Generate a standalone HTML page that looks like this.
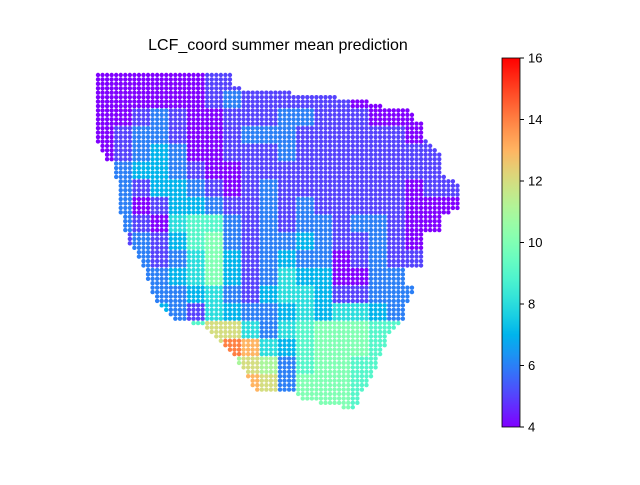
<!DOCTYPE html>
<html><head><meta charset="utf-8"><style>
html,body{margin:0;padding:0;background:#fff}
svg text{font-family:"Liberation Sans","DejaVu Sans",sans-serif}
</style></head><body>
<svg id="chart" width="640" height="480" viewBox="0 0 640 480">
<rect width="640" height="480" fill="#fff"/>
<text x="278" y="50" font-size="16" text-anchor="middle">LCF_coord summer mean prediction</text>
<g id="dots"></g>
<defs><linearGradient id="cb" x1="0" y1="1" x2="0" y2="0"></linearGradient></defs>
<rect x="502" y="58" width="18" height="369" fill="url(#cb)" stroke="#000" stroke-width="0.8"/>
<g id="cbticks"></g>
</svg>
<script>
const tickValues=[4,6,8,10,12,14,16];
const vmin=4, vmax=16;
// coarse grid of values (0 = no data); each cell = 4x4 prediction points
const gridRows=[
[4,4,4,4,4,4,5,5,5,5,5,0,0,0,0,0,0,0,0,0],
[4,4,4,4,4,4,5,6,5,5,5,5,5,5,4,4,0,0,0,0],
[4,4,5,6,5,4,4,5,5,5,6,6,5,5,5,4,4,4,0,0],
[4,5,6,6,5,4,4,5,6,6,6,5,5,5,5,5,5,4,5,0],
[4,5,6,7,6,4,4,5,5,5,6,5,5,5,5,5,5,5,5,0],
[0,6,7,7,6,5,4,4,5,5,5,5,5,5,5,5,5,5,5,5],
[0,6,5,7,7,6,5,4,5,6,5,5,5,5,5,5,5,4,5,5],
[0,6,4,5,7,7,6,5,5,6,5,6,5,5,5,5,5,4,4,4],
[0,6,5,4,8,9,9,6,5,6,5,6,6,5,6,6,5,4,4,0],
[0,5,6,5,7,9,10,6,5,6,6,7,6,5,5,6,5,4,0,0],
[0,0,6,5,6,8,10,7,5,6,7,6,6,4,5,6,5,5,0,0],
[0,0,6,6,7,8,10,7,5,6,8,7,7,4,4,6,6,0,0,0],
[0,0,5,6,6,7,8,6,5,7,8,8,7,5,5,6,6,6,0,0],
[0,0,0,7,6,5,8,7,6,6,7,8,7,8,8,7,6,0,0,0],
[0,0,0,8,8,9,12,12,8,6,8,9,10,10,10,9,9,0,0,0],
[0,0,0,0,0,0,12,14,13,8,7,9,10,10,10,9,0,0,0,0],
[0,0,0,0,0,0,0,11,12,11,6,9,10,10,9,9,0,0,0,0],
[0,0,0,0,0,0,0,0,13,12,6,10,10,10,9,9,0,0,0,0],
[0,0,0,0,0,0,0,0,0,0,0,10,10,10,9,0,0,0,0,0]
];
// survey area outline (pixel mask)
const outline=[[94,71],[153,71],[153,75],[231,75],[233,88],[291,90],[293,96],[366,98],[368,105],[410,108],[414,118],[422,123],[424,138],[434,148],[442,158],[444,178],[458,183],[464,195],[462,207],[444,217],[438,237],[432,262],[420,272],[414,292],[407,302],[402,325],[390,332],[387,342],[380,357],[372,377],[362,392],[357,407],[350,414],[343,407],[303,400],[293,396],[258,396],[253,387],[246,377],[243,367],[233,357],[220,344],[210,330],[198,324],[175,320],[158,302],[150,292],[146,272],[138,257],[128,242],[123,227],[119,202],[119,185],[113,172],[103,152],[98,142],[94,132]];
const NS="http://www.w3.org/2000/svg";
function inside(x,y){let c=false;for(let i=0,j=outline.length-1;i<outline.length;j=i++){
 const [xi,yi]=outline[i],[xj,yj]=outline[j];
 if(((yi>y)!=(yj>y))&&(x<(xj-xi)*(y-yi)/(yj-yi)+xi))c=!c;}return c;}
function rainbow(t){t=Math.max(0,Math.min(1,t));
 const r=Math.min(1,Math.abs(2*t-0.5)),g=Math.sin(Math.PI*t),b=Math.cos(Math.PI*t/2);
 return `rgb(${Math.round(r*255)},${Math.round(g*255)},${Math.round(Math.max(0,b)*255)})`;}
const xs=i=>98+i*4.55, ys=j=>75+j*4.43;
const cy=v=>427-(v-vmin)/(vmax-vmin)*369;
const g=document.getElementById('dots');
gridRows.forEach((row,r)=>row.forEach((v,c)=>{
 if(!v) return;
 for(let j=0;j<4;j++)for(let i=0;i<4;i++){
  const px=xs(c*4+i), py=ys(r*4+j);
  if(!inside(px,py)) continue;
  const el=document.createElementNS(NS,'circle');
  el.setAttribute('cx',px);el.setAttribute('cy',py);el.setAttribute('r',2.2);
  el.setAttribute('fill',rainbow((v-vmin)/(vmax-vmin)));
  
  
  g.appendChild(el);}
}));
const grad=document.getElementById('cb');
for(let k=0;k<=20;k++){const s=document.createElementNS(NS,'stop');
 s.setAttribute('offset',k/20);s.setAttribute('stop-color',rainbow(k/20));grad.appendChild(s);}
const tg=document.getElementById('cbticks');
tickValues.forEach(v=>{
 const l=document.createElementNS(NS,'line');
 l.setAttribute('x1',520);l.setAttribute('x2',524);l.setAttribute('y1',cy(v));l.setAttribute('y2',cy(v));l.setAttribute('stroke','#000');
 
 
 tg.appendChild(l);
 const t=document.createElementNS(NS,'text');
 t.setAttribute('x',528);t.setAttribute('y',cy(v)+4.5);t.setAttribute('font-size','13');t.textContent=v;
 
 
 tg.appendChild(t);});
</script>
</body></html>
